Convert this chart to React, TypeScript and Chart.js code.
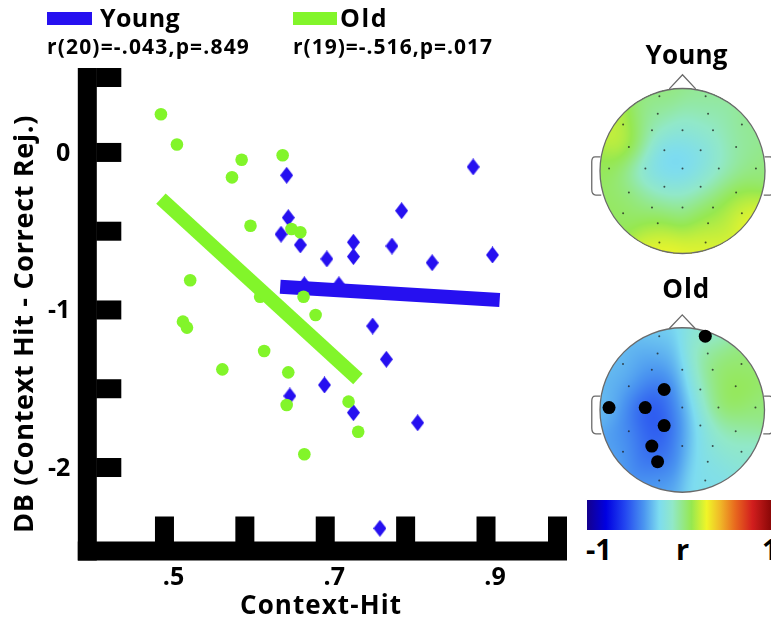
import React, { useEffect, useRef } from 'react';
import { Chart, registerables } from 'chart.js';
Chart.register(...registerables);

const FONT = '"Open Sans", "DejaVu Sans", sans-serif';
const BLUE = 'rgb(38,16,240)';
const GREEN = 'rgb(130,245,42)';

// ---- scatter data (Context-Hit vs DB) ----
const youngX = [0.652, 0.884, 0.795, 0.654, 0.645, 0.669, 0.735, 0.735, 0.702, 0.783, 0.833, 0.908, 0.674, 0.717, 0.759, 0.776, 0.699, 0.656, 0.735, 0.815, 0.768];
const youngY = [-0.145, -0.092, -0.370, -0.414, -0.519, -0.587, -0.570, -0.661, -0.676, -0.594, -0.700, -0.651, -0.84, -0.84, -1.102, -1.313, -1.476, -1.546, -1.652, -1.716, -2.386];
const oldX = [0.4956, 0.5155, 0.596, 0.647, 0.584, 0.607, 0.658, 0.669, 0.532, 0.673, 0.619, 0.688, 0.523, 0.528, 0.624, 0.572, 0.654, 0.652, 0.729, 0.741, 0.674];
const oldY = [0.242, 0.05, -0.046, -0.018, -0.158, -0.465, -0.486, -0.507, -0.811, -0.916, -0.916, -1.032, -1.074, -1.112, -1.26, -1.377, -1.396, -1.603, -1.582, -1.773, -1.916];
const youngFitX = [0.644, 0.917];
const youngFitY = [-0.852, -0.937];
const oldFitX = [0.4956, 0.7407];
const oldFitY = [-0.293, -1.438];

const youngLabel = 'Young';
const oldLabel = 'Old';
const youngStats = 'r(20)=-.043,p=.849';
const oldStats = 'r(19)=-.516,p=.017';

const xTickValues = [0.5, 0.6, 0.7, 0.8, 0.9, 1.0];
const xTickLabels = ['.5', '', '.7', '', '.9', ''];
const yTickValues = [0.5, 0, -0.5, -1, -1.5, -2];
const yTickLabels = ['', '0', '', '-1', '', '-2'];
const xTitle = 'Context-Hit';
const yTitle = 'DB (Context Hit - Correct Rej.)';

// ---- topography data ----
const elecNames = ['Fp1', 'Fp2', 'AF3', 'AF4', 'F7', 'F3', 'Fz', 'F4', 'F8', 'FC5', 'FC1', 'FC2', 'FC6', 'T7', 'C3', 'Cz', 'C4', 'T8', 'CP5', 'CP1', 'CP2', 'CP6', 'P7', 'P3', 'Pz', 'P4', 'P8', 'PO3', 'PO4', 'O1', 'O2'];
const elecX = [-0.28, 0.28, -0.30, 0.31, -0.72, -0.37, 0, 0.37, 0.72, -0.65, -0.22, 0.22, 0.65, -0.89, -0.45, 0, 0.44, 0.89, -0.65, -0.22, 0.22, 0.65, -0.72, -0.37, 0, 0.37, 0.72, -0.30, 0.31, -0.28, 0.28];
const elecY = [0.90, 0.90, 0.69, 0.69, 0.56, 0.49, 0.49, 0.49, 0.56, 0.29, 0.25, 0.25, 0.29, 0.03, 0.03, 0.03, 0.03, 0.03, -0.26, -0.19, -0.19, -0.26, -0.51, -0.44, -0.44, -0.44, -0.51, -0.63, -0.63, -0.86, -0.86];
const youngR = [0.04, 0.0, -0.03, -0.06, 0.18, -0.08, -0.13, -0.1, 0.0, 0.24, -0.3, -0.23, -0.03, 0.08, -0.23, -0.3, -0.1, 0.02, 0.05, -0.18, -0.13, 0.08, 0.08, -0.02, -0.03, 0.08, 0.28, 0.15, 0.15, 0.28, 0.25];
const oldR = [-0.25, -0.18, -0.35, 0.0, -0.3, -0.42, -0.3, 0.1, 0.02, -0.35, -0.55, -0.1, 0.12, -0.3, -0.6, -0.38, 0.12, 0.02, -0.42, -0.6, -0.22, -0.02, -0.35, -0.58, -0.38, -0.1, -0.15, -0.5, -0.22, -0.35, -0.22];
const oldSig = ['Fp2', 'FC1', 'T7', 'C3', 'CP1', 'P3', 'PO3'];
const youngSig: string[] = [];

const cmapStops = [0, 0.1, 0.2, 0.3, 0.38, 0.45, 0.55, 0.63, 0.7, 0.78, 0.87, 1];
const cmapColors = [[20, 0, 140], [0, 0, 225], [35, 70, 240], [75, 150, 240], [125, 220, 240], [145, 232, 200], [150, 232, 80], [240, 245, 40], [240, 185, 40], [232, 105, 30], [210, 30, 30], [115, 0, 0]];
const cbarLabels = ['-1', 'r', '1'];

function cmap(t: number): number[] {
  t = Math.max(0, Math.min(1, t));
  for (let i = 1; i < cmapStops.length; i++) {
    if (t <= cmapStops[i]) {
      const f = (t - cmapStops[i - 1]) / (cmapStops[i] - cmapStops[i - 1]);
      const a = cmapColors[i - 1], b = cmapColors[i];
      return [a[0] + (b[0] - a[0]) * f, a[1] + (b[1] - a[1]) * f, a[2] + (b[2] - a[2]) * f];
    }
  }
  return cmapColors[cmapColors.length - 1];
}

function makeDiamond(w: number, h: number, color: string) {
  const c = document.createElement('canvas');
  c.width = w; c.height = h;
  const g = c.getContext('2d')!;
  g.fillStyle = color;
  g.beginPath();
  g.moveTo(w / 2, 0); g.lineTo(w, h / 2); g.lineTo(w / 2, h); g.lineTo(0, h / 2);
  g.closePath(); g.fill();
  return c;
}

// draw text at a given size; stretch with letter spacing (or shrink) to the wanted width
function drawFitted(ctx: any, text: string, x: number, y: number, size: number, target: number) {
  ctx.font = `bold ${size}px ${FONT}`;
  ctx.letterSpacing = '0px';
  const w = ctx.measureText(text).width;
  if (w > target) {
    ctx.font = `bold ${(size * target) / w}px ${FONT}`;
  } else {
    ctx.letterSpacing = `${(target - w) / text.length}px`;
  }
  ctx.fillText(text, x, y);
  ctx.letterSpacing = '0px';
}

const axesPlugin = {
  id: 'thickAxes',
  beforeDatasetsDraw(chart: any) {
    const { ctx, chartArea: a, scales } = chart;
    const x = scales.x, y = scales.y;
    const T = 19, half = T / 2, L = 25;
    ctx.save();
    ctx.fillStyle = '#000';
    const xl = a.left - half, xr = a.right + 0.6;
    const yb = a.bottom + half, yt = a.top;
    ctx.fillRect(xl, yt, T, yb - yt);
    ctx.fillRect(xl, a.bottom - half, xr - xl, T);
    yTickValues.forEach((v) => {
      const c = y.getPixelForValue(v);
      let t0 = c - half;
      if (t0 < yt) t0 = yt;
      if (t0 + T > a.bottom - half) t0 = a.bottom - half - T;
      ctx.fillRect(a.left + half - 0.5, t0, L, T);
    });
    xTickValues.forEach((v) => {
      const c = x.getPixelForValue(v);
      let l0 = c - half;
      if (l0 + T > xr) l0 = xr - T;
      if (l0 < a.left + half) l0 = a.left + half;
      ctx.fillRect(l0, a.bottom - half - L, T, L + 0.5);
    });
    ctx.restore();
  },
  afterDraw(chart: any) {
    const { ctx, chartArea: a, scales } = chart;
    const x = scales.x, y = scales.y;
    ctx.save();
    ctx.fillStyle = '#000';
    // tick labels
    ctx.font = `bold 25px ${FONT}`;
    ctx.textAlign = 'right';
    ctx.textBaseline = 'middle';
    yTickValues.forEach((v, i) => {
      if (yTickLabels[i]) ctx.fillText(yTickLabels[i], a.left - 17, y.getPixelForValue(v) + 1);
    });
    ctx.textAlign = 'center';
    xTickValues.forEach((v, i) => {
      if (xTickLabels[i]) ctx.fillText(xTickLabels[i], x.getPixelForValue(v) + 9, a.bottom + 27);
    });
    // axis titles
    ctx.textAlign = 'left';
    drawFitted(ctx, xTitle, 240, a.bottom + 56, 26, 162);
    ctx.save();
    ctx.translate(25, 533);
    ctx.rotate(-Math.PI / 2);
    drawFitted(ctx, yTitle, 0, 0, 27, 418);
    ctx.restore();
    // legend
    ctx.textAlign = 'left';
    ctx.textBaseline = 'alphabetic';
    ctx.fillStyle = BLUE;
    ctx.fillRect(47, 12, 45, 13);
    ctx.fillStyle = GREEN;
    ctx.fillRect(293, 12, 44, 13);
    ctx.fillStyle = '#000';
    drawFitted(ctx, youngLabel, 100, 27, 25, 80);
    drawFitted(ctx, oldLabel, 340, 27, 25, 48);
    drawFitted(ctx, youngStats, 47, 54, 21, 203);
    drawFitted(ctx, oldStats, 293, 54, 21, 200);
    ctx.restore();
  },
};

function makeMain(canvas: HTMLCanvasElement) {
  const diamond = makeDiamond(13, 17, BLUE);
  return new Chart(canvas, {
    type: 'scatter',
    data: {
      datasets: [
        {
          label: 'Old fit', type: 'line', data: oldFitX.map((v, i) => ({ x: v, y: oldFitY[i] })),
          borderColor: GREEN, backgroundColor: GREEN, borderWidth: 14, pointRadius: 0, borderCapStyle: 'butt', fill: false, order: 0,
        } as any,
        {
          label: oldLabel, data: oldX.map((v, i) => ({ x: v, y: oldY[i] })),
          pointStyle: 'circle', pointRadius: 6.3, backgroundColor: GREEN, borderWidth: 0, order: 1,
        },
        {
          label: 'Young fit', type: 'line', data: youngFitX.map((v, i) => ({ x: v, y: youngFitY[i] })),
          borderColor: BLUE, backgroundColor: BLUE, borderWidth: 14, pointRadius: 0, borderCapStyle: 'butt', fill: false, order: 2,
        } as any,
        {
          label: youngLabel, data: youngX.map((v, i) => ({ x: v, y: youngY[i] })),
          pointStyle: diamond as any, pointRadius: 8, backgroundColor: BLUE, borderWidth: 0, order: 3,
        },
      ],
    },
    options: {
      responsive: false,
      animation: false,
      events: [],
      layout: { padding: { left: 87.3, top: 68, right: 13.6, bottom: 74 } },
      scales: {
        x: { type: 'linear', min: 0.404, max: 1.0, display: false },
        y: { type: 'linear', min: -2.53, max: 0.536, display: false },
      },
      plugins: { legend: { display: false }, tooltip: { enabled: false } },
    },
    plugins: [axesPlugin],
  });
}

function topoPlugin(values: number[], title: string, titleY: number, titleW: number) {
  return {
    id: 'topo' + title,
    beforeDatasetsDraw(chart: any) {
      const { ctx, chartArea: a, scales } = chart;
      const xs = scales.x, ys = scales.y;
      const w = Math.ceil(a.right - a.left), h = Math.ceil(a.bottom - a.top);
      const off = document.createElement('canvas');
      off.width = w; off.height = h;
      const octx = off.getContext('2d')!;
      const img = octx.createImageData(w, h);
      const s2 = 2 * 0.2 * 0.2;
      for (let py = 0; py < h; py++) {
        for (let px = 0; px < w; px++) {
          const vx = xs.getValueForPixel(a.left + px + 0.5);
          const vy = ys.getValueForPixel(a.top + py + 0.5);
          if (vx * vx + vy * vy > 1) continue;
          let num = 0, den = 0;
          for (let i = 0; i < elecX.length; i++) {
            const dx = vx - elecX[i], dy = vy - elecY[i];
            const wgt = Math.exp(-(dx * dx + dy * dy) / s2) + 1e-6;
            num += wgt * values[i]; den += wgt;
          }
          const c = cmap((num / den + 1) / 2);
          const k = (py * w + px) * 4;
          img.data[k] = c[0]; img.data[k + 1] = c[1]; img.data[k + 2] = c[2]; img.data[k + 3] = 255;
        }
      }
      octx.putImageData(img, 0, 0);
      ctx.save();
      ctx.drawImage(off, a.left, a.top);
      const cx = xs.getPixelForValue(0), cy = ys.getPixelForValue(0);
      const r = xs.getPixelForValue(1) - cx;
      const P = (vx: number, vy: number) => [xs.getPixelForValue(vx), ys.getPixelForValue(vy)];
      ctx.strokeStyle = '#6a6a6a';
      ctx.lineWidth = 1.3;
      ctx.beginPath(); ctx.arc(cx, cy, r, 0, Math.PI * 2); ctx.stroke();
      ctx.beginPath();
      let p = P(-0.16, 0.99); ctx.moveTo(p[0], p[1]);
      p = P(0, 1.16); ctx.lineTo(p[0], p[1]);
      p = P(0.16, 0.99); ctx.lineTo(p[0], p[1]);
      ctx.stroke();
      [-1, 1].forEach((s) => {
        ctx.beginPath();
        let q = P(s * 0.995, 0.17); ctx.moveTo(q[0], q[1]);
        q = P(s * 1.06, 0.17); ctx.lineTo(q[0], q[1]);
        const c1 = P(s * 1.1, 0.17), e1 = P(s * 1.1, 0.11);
        ctx.quadraticCurveTo(c1[0], c1[1], e1[0], e1[1]);
        q = P(s * 1.1, -0.22); ctx.lineTo(q[0], q[1]);
        const c2 = P(s * 1.1, -0.29), e2 = P(s * 1.05, -0.29);
        ctx.quadraticCurveTo(c2[0], c2[1], e2[0], e2[1]);
        q = P(s * 0.985, -0.29); ctx.lineTo(q[0], q[1]);
        ctx.stroke();
      });
      ctx.restore();
    },
    afterDraw(chart: any) {
      const { ctx, scales } = chart;
      ctx.save();
      ctx.fillStyle = '#000';
      ctx.textAlign = 'left';
      ctx.textBaseline = 'alphabetic';
      drawFitted(ctx, title, scales.x.getPixelForValue(0) + 4 - titleW / 2, titleY, 26, titleW);
      ctx.restore();
    },
  };
}

function makeTopo(canvas: HTMLCanvasElement, values: number[], sig: string[], title: string, pad: any, titleY: number, titleW: number) {
  const all = elecX.map((v, i) => ({ x: v, y: elecY[i] }));
  const big = elecNames.map((n, i) => (sig.includes(n) ? { x: elecX[i], y: elecY[i] } : null)).filter(Boolean);
  return new Chart(canvas, {
    type: 'scatter',
    data: {
      datasets: [
        { label: 'sig', data: big as any, pointRadius: 6.5, backgroundColor: '#000', borderWidth: 0, order: 0 },
        { label: 'electrodes', data: all, pointRadius: 1, backgroundColor: 'rgba(30,30,30,0.75)', borderWidth: 0, order: 1 },
      ],
    },
    options: {
      responsive: false,
      animation: false,
      events: [],
      layout: { padding: pad },
      scales: {
        x: { type: 'linear', min: -1, max: 1, display: false },
        y: { type: 'linear', min: -1, max: 1, display: false },
      },
      plugins: { legend: { display: false }, tooltip: { enabled: false } },
    },
    plugins: [topoPlugin(values, title, titleY, titleW)],
  });
}

export default function App() {
  const mainRef = useRef<HTMLCanvasElement>(null);
  const youngRef = useRef<HTMLCanvasElement>(null);
  const oldRef = useRef<HTMLCanvasElement>(null);
  useEffect(() => {
    const charts = [
      makeMain(mainRef.current!),
      makeTopo(youngRef.current!, youngR, youngSig, 'Young', { left: 20, right: 6, top: 48, bottom: 16 }, 24, 82),
      makeTopo(oldRef.current!, oldR, oldSig, 'Old', { left: 20, right: 6, top: 58, bottom: 8 }, 28, 48),
    ];
    return () => charts.forEach((c) => c.destroy());
  }, []);
  const gradient = 'linear-gradient(to right, ' + cmapStops.map((s, i) => `rgb(${cmapColors[i].join(',')}) ${s * 100}%`).join(', ') + ')';
  const lab: React.CSSProperties = { position: 'absolute', top: 534, fontSize: 29, fontWeight: 700, lineHeight: '30px', fontFamily: FONT, color: '#000' };
  return (
    <div style={{ position: 'fixed', left: 0, top: 0, width: 771, height: 625, background: '#fff', overflow: 'hidden' }}>
      <canvas ref={mainRef} width={580} height={625} style={{ position: 'absolute', left: 0, top: 0 }} />
      <canvas ref={youngRef} width={191} height={230} style={{ position: 'absolute', left: 580, top: 40 }} />
      <canvas ref={oldRef} width={191} height={230} style={{ position: 'absolute', left: 580, top: 270 }} />
      <div style={{ position: 'absolute', left: 587, top: 500, width: 190, height: 30, background: gradient }} />
      <span style={{ ...lab, left: 586 }}>{cbarLabels[0]}</span>
      <span style={{ ...lab, left: 676 }}>{cbarLabels[1]}</span>
      <span style={{ ...lab, left: 762 }}>{cbarLabels[2]}</span>
    </div>
  );
}
